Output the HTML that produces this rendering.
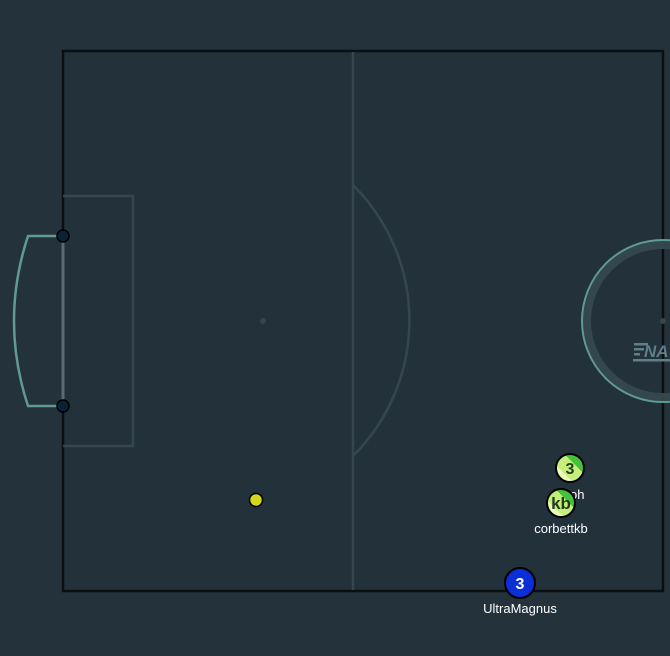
<!DOCTYPE html>
<html><head><style>
html,body{margin:0;padding:0;background:#24323b;}
svg{display:block;font-family:"Liberation Sans",sans-serif;}
</style></head><body>
<svg width="670" height="656" viewBox="0 0 670 656">
<defs>
<linearGradient id="g" x1="1" y1="0" x2="0" y2="1">
<stop offset="0.35" stop-color="#44c23c"/><stop offset="0.35" stop-color="#c6ee7a"/>
<stop offset="0.7" stop-color="#c6ee7a"/><stop offset="0.7" stop-color="#eaffb8"/>
</linearGradient>
</defs>
<rect x="0" y="0" width="670" height="656" fill="#24323b"/>
<rect x="63" y="51" width="600" height="540" fill="#23313a" stroke="#0b0f12" stroke-width="2.5"/>
<line x1="353" y1="52" x2="353" y2="590" stroke="#34474f" stroke-width="2.5"/>
<path d="M353,185 A191,191 0 0 1 353,456" fill="none" stroke="#34474f" stroke-width="2.5"/>
<circle cx="263" cy="321" r="3" fill="#34474f"/>
<path d="M63,196 H133 V446 H63" fill="none" stroke="#34474f" stroke-width="2.5"/>
<line x1="63" y1="236" x2="63" y2="406" stroke="#5a6b74" stroke-width="3"/>
<path d="M63,236 H28 Q0,321 28,406 H63" fill="none" stroke="#5f9a94" stroke-width="2.5"/>
<circle cx="63" cy="236" r="6" fill="#0b2236" stroke="#000" stroke-width="1.5"/>
<circle cx="63" cy="406" r="6" fill="#0b2236" stroke="#000" stroke-width="1.5"/>
<circle cx="663" cy="321" r="76" fill="none" stroke="#34474f" stroke-width="8"/>
<circle cx="663" cy="321" r="81" fill="none" stroke="#5f9a94" stroke-width="2"/>
<circle cx="663" cy="321" r="3" fill="#34474f"/>
<g fill="#5f7f88">
<rect x="634" y="343" width="14" height="2.5"/><rect x="634" y="348" width="10" height="2.5"/><rect x="634" y="353" width="6" height="2.5"/>
<text x="644" y="357" font-size="17" font-style="italic" font-weight="bold">NA</text>
<rect x="633" y="359" width="40" height="2.5"/>
</g>
<circle cx="256" cy="500" r="6.5" fill="#d3d81a" stroke="#000" stroke-width="1.5"/>
<g>
<circle cx="570" cy="468" r="14" fill="url(#g)" stroke="#000" stroke-width="2"/>
<text x="570" y="474" font-size="16" font-weight="bold" fill="#1f3a1d" text-anchor="middle">3</text>
<text x="574" y="499" font-size="13" fill="#fff" text-anchor="middle">zoh</text>
</g>
<g>
<circle cx="561" cy="503" r="14" fill="url(#g)" stroke="#000" stroke-width="2"/>
<text x="561" y="509" font-size="17" font-weight="bold" fill="#1f3a1d" text-anchor="middle">kb</text>
<text x="561" y="533" font-size="13" fill="#fff" text-anchor="middle">corbettkb</text>
</g>
<g>
<circle cx="520" cy="583" r="15" fill="#0a2fd6" stroke="#000" stroke-width="2"/>
<text x="520" y="589" font-size="16" font-weight="bold" fill="#fff" text-anchor="middle">3</text>
<text x="520" y="613" font-size="13" fill="#fff" text-anchor="middle">UltraMagnus</text>
</g>
</svg>
</body></html>
